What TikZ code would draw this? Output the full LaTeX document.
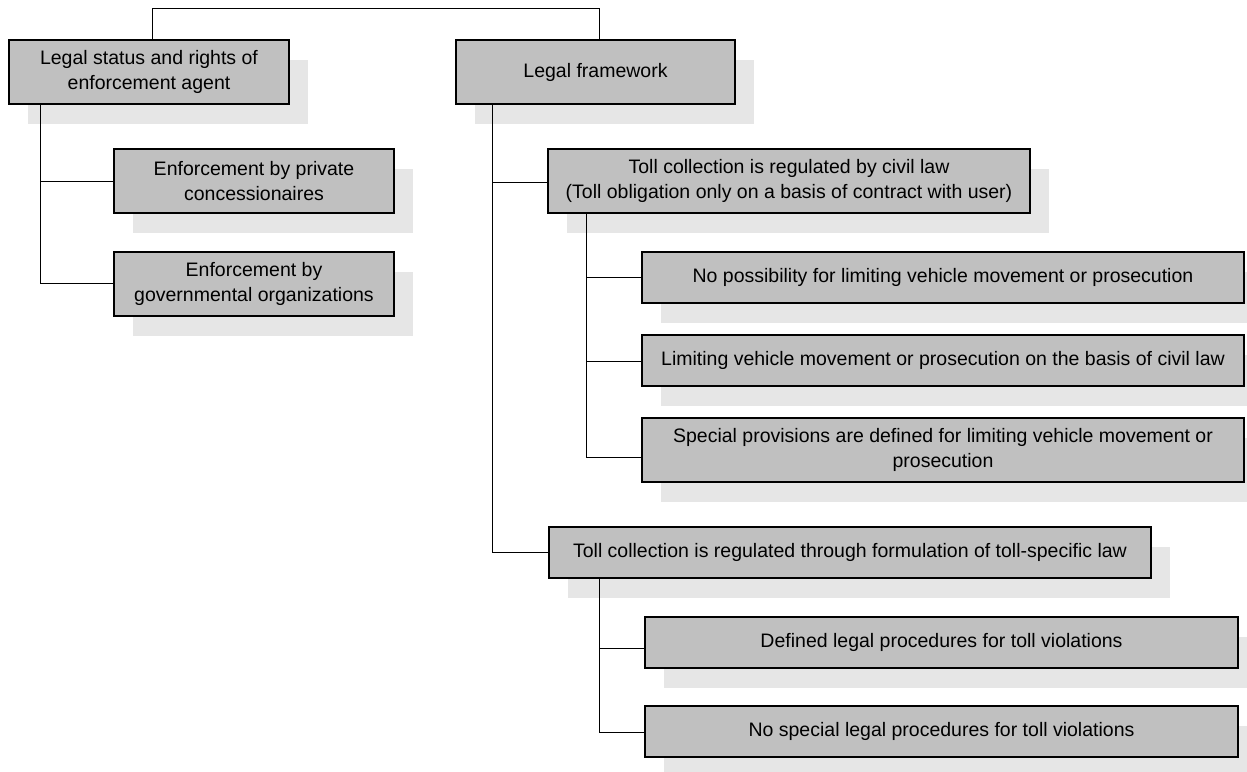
\documentclass[tikz,border=0pt]{standalone}
\usepackage{fontspec}
\setmainfont{Liberation Sans}
\usetikzlibrary{shadows}
\definecolor{boxgray}{RGB}{192,192,192}
\definecolor{shadowgray}{RGB}{230,230,230}
\begin{document}
\begin{tikzpicture}[x=1pt,y=-1pt,
  box/.style={draw=black, line width=1.3pt, fill=boxgray, align=center, inner sep=0pt,
    font=\fontsize{19.5}{24.5}\selectfont,
    general shadow={shadow xshift=19pt, shadow yshift=-19.5pt, fill=shadowgray, draw=none, opacity=1}},
  conn/.style={draw=black, line width=1pt}]
\clip (0,0) rectangle (1247,771);
\fill[white] (0,0) rectangle (1247,771);
% nodes
\node[box, minimum width=280pt, minimum height=64pt] (B1) at (149,72) {Legal status and rights of\\enforcement agent};
\node[box, minimum width=279pt, minimum height=64pt] (B2) at (595.5,72) {Legal framework};
\node[box, minimum width=280pt, minimum height=64pt] (P) at (254,181) {Enforcement by private\\concessionaires};
\node[box, minimum width=280pt, minimum height=64pt] (G) at (254,284) {Enforcement by\\governmental organizations};
\node[box, minimum width=482pt, minimum height=64pt] (C) at (789,181) {Toll collection is regulated by civil law\\(Toll obligation only on a basis of contract with user)};
\node[box, minimum width=602pt, minimum height=51pt] (N1) at (943,277.5) {No possibility for limiting vehicle movement or prosecution};
\node[box, minimum width=602pt, minimum height=51pt] (N2) at (943,360.5) {Limiting vehicle movement or prosecution on the basis of civil law};
\node[box, minimum width=602pt, minimum height=64pt] (N3) at (943,450) {Special provisions are defined for limiting vehicle movement or\\prosecution};
\node[box, minimum width=602pt, minimum height=51pt] (T) at (850,552.5) {Toll collection is regulated through formulation of toll-specific law};
\node[box, minimum width=593pt, minimum height=51pt] (D) at (941.5,642.5) {Defined legal procedures for toll violations};
\node[box, minimum width=593pt, minimum height=51pt] (S) at (941.5,731.5) {No special legal procedures for toll violations};
% connector helpers
\coordinate (top) at (0,8);
\coordinate (b1t) at ([xshift=3pt]B1.north);
\coordinate (b2t) at ([xshift=3.5pt]B2.north);
\coordinate (b1x) at (40,0);
\coordinate (b2x) at (492,0);
\coordinate (cx) at (586,0);
\coordinate (tx) at (599,0);
\coordinate (gIn) at ([yshift=1pt]G.west);
\coordinate (cIn) at ([yshift=-1pt]C.west);
\coordinate (n2In) at ([yshift=-0.5pt]N2.west);
\coordinate (n3In) at ([yshift=-7pt]N3.west);
\coordinate (dIn) at ([yshift=-5.5pt]D.west);
\coordinate (sIn) at ([yshift=-0.5pt]S.west);
% connectors
\draw[conn] (b1t) |- (top -| b2t) -- (b2t);
\draw[conn] (B1.south -| b1x) |- (P.west);
\draw[conn] (B1.south -| b1x) |- (gIn);
\draw[conn] (B2.south -| b2x) |- (cIn);
\draw[conn] (B2.south -| b2x) |- (T.west);
\draw[conn] (C.south -| cx) |- (N1.west);
\draw[conn] (C.south -| cx) |- (n2In);
\draw[conn] (C.south -| cx) |- (n3In);
\draw[conn] (T.south -| tx) |- (dIn);
\draw[conn] (T.south -| tx) |- (sIn);
\end{tikzpicture}
\end{document}
